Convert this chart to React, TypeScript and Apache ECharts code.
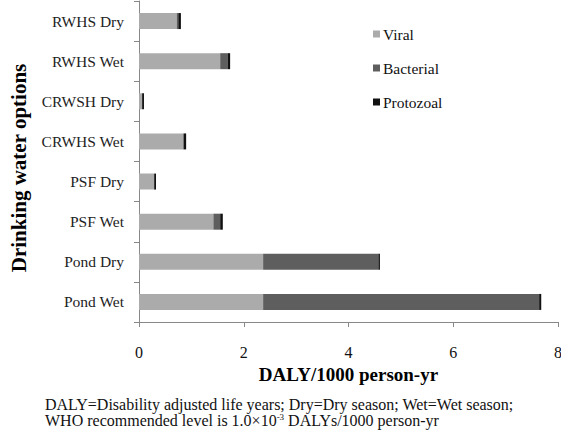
import React, { useEffect, useRef } from "react";
import * as echarts from "echarts";

const categories = ["Pond Wet", "Pond Dry", "PSF Wet", "PSF Dry", "CRWHS Wet", "CRWSH Dry", "RWHS Wet", "RWHS Dry"];
const viral = [2.37, 2.37, 1.42, 0.29, 0.85, 0.06, 1.55, 0.72];
const bacterial = [5.27, 2.2, 0.13, 0.0, 0.0, 0.0, 0.14, 0.03];
const protozoal = [0.04, 0.03, 0.05, 0.035, 0.05, 0.035, 0.05, 0.05];
const xTicks = [0, 2, 4, 6, 8];

const FONT = "Liberation Serif";

export default function App() {
  const ref = useRef<HTMLDivElement>(null);
  useEffect(() => {
    if (!ref.current) return;
    const chart = echarts.init(ref.current, null, { renderer: "svg" });
    const mk = (name: string, data: number[], color: string) => ({
      name,
      type: "bar",
      stack: "total",
      data,
      barWidth: 16,
      itemStyle: { color },
      emphasis: { disabled: true },
    });
    chart.setOption({
      animation: false,
      backgroundColor: "#ffffff",
      textStyle: { fontFamily: FONT },
      grid: { left: 139, right: 3, top: 1, bottom: 109, containLabel: false, outerBoundsMode: "none" },
      legend: {
        orient: "vertical",
        left: 368,
        top: 21,
        itemGap: 18,
        itemWidth: 7,
        itemHeight: 7,
        icon: "rect",
        textStyle: { fontFamily: FONT, fontSize: 15.5, color: "#111", padding: [0, 0, 0, -2] },
        data: ["Viral", "Bacterial", "Protozoal"],
      },
      xAxis: {
        type: "value",
        min: xTicks[0],
        max: xTicks[xTicks.length - 1],
        interval: 2,
        name: "DALY/1000 person-yr",
        nameLocation: "middle",
        nameGap: 42,
        nameTextStyle: { fontFamily: FONT, fontSize: 19, fontWeight: "bold", color: "#000" },
        axisLine: { show: true, lineStyle: { color: "#888" } },
        axisTick: { show: true, length: 5, lineStyle: { color: "#888" } },
        splitLine: { show: false },
        axisLabel: { fontFamily: FONT, fontSize: 16, color: "#111", margin: 22 },
      },
      yAxis: {
        type: "category",
        data: categories,
        axisLine: { show: true, lineStyle: { color: "#888" } },
        axisTick: { show: true, length: 5, lineStyle: { color: "#888" } },
        axisLabel: { fontFamily: FONT, fontSize: 15.5, color: "#222", margin: 15 },
      },
      series: [
        mk("Viral", viral, "#ababab"),
        mk("Bacterial", bacterial, "#5e5e5e"),
        mk("Protozoal", protozoal, "#111111"),
      ],
      graphic: [
        {
          type: "text",
          x: 18.5,
          y: 168,
          rotation: Math.PI / 2,
          style: {
            text: "Drinking water options",
            fontFamily: FONT,
            fontSize: 21,
            fontWeight: "bold",
            fill: "#000",
            align: "center",
            verticalAlign: "middle",
          },
        },
        {
          type: "text",
          left: 45,
          top: 396,
          style: {
            text: "DALY=Disability adjusted life years; Dry=Dry season; Wet=Wet season;",
            fontFamily: FONT,
            fontSize: 16,
            fill: "#111",
          },
        },
        {
          type: "text",
          left: 45,
          top: 412,
          style: {
            text: "WHO recommended level is 1.0×10{sup|-3} DALYs/1000 person-yr",
            fontFamily: FONT,
            fontSize: 16,
            fill: "#111",
            rich: {
              sup: { fontSize: 9, verticalAlign: "top", padding: [0, 0, 7, 0], fontFamily: FONT, fill: "#111" },
            },
          },
        },
      ],
    });
    return () => chart.dispose();
  }, []);
  return <div ref={ref} style={{ position: "fixed", left: 0, top: 0, width: 561, height: 431 }} />;
}
